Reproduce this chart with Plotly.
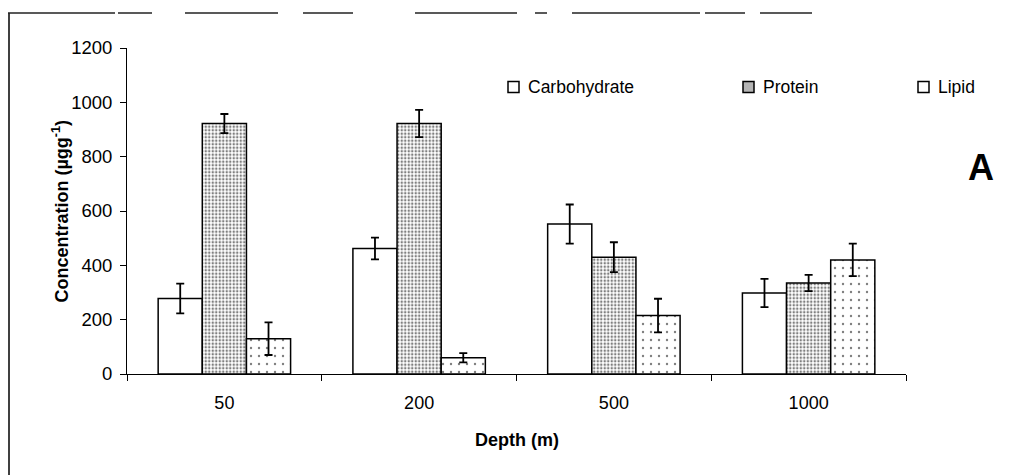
import plotly.graph_objects as go

# Sampling depths and measured biochemical concentrations (µg g-1)
depths = ["50", "200", "500", "1000"]
carbohydrate = [278, 462, 552, 298]
carbohydrate_err = [55, 40, 72, 52]
protein = [922, 922, 430, 335]
protein_err = [35, 50, 55, 30]
lipid = [130, 60, 215, 420]
lipid_err = [60, 17, 62, 60]

y_ticks = [0, 200, 400, 600, 800, 1000, 1200]

FONT = "Liberation Sans, Arial, sans-serif"

# Plot-area geometry in pixels, used to place decorations in paper coords
L, R, T, B = 127, 906, 48, 374
PW, PH = R - L, B - T


def px(x):
    return (x - L) / PW


def py(y):
    return (B - y) / PH


series = [
    ("Carbohydrate", carbohydrate, carbohydrate_err, dict(shape="", bgcolor="white"), "white"),
    ("Protein", protein, protein_err,
     dict(shape=".", size=3.5, solidity=0.4, fgcolor="black", bgcolor="white", fillmode="overlay"),
     "#b4b4b4"),
    ("Lipid", lipid, lipid_err,
     dict(shape=".", size=8, solidity=0.07, fgcolor="black", bgcolor="white", fillmode="overlay"),
     "white"),
]

fig = go.Figure()
for name, vals, errs, pattern, _ in series:
    fig.add_trace(go.Bar(
        name=name,
        x=depths,
        y=vals,
        marker=dict(color="white", line=dict(color="black", width=1.5), pattern=pattern),
        error_y=dict(type="data", array=errs, visible=True, color="black", thickness=1.8, width=4),
        showlegend=False,
    ))

fig.update_layout(
    barmode="group",
    bargap=0.32,
    bargroupgap=0,
    width=1024,
    height=475,
    margin=dict(l=L, r=1024 - R, t=T, b=475 - B),
    paper_bgcolor="white",
    plot_bgcolor="white",
    font=dict(family=FONT, size=18, color="black"),
    xaxis=dict(
        showline=True, linecolor="black", linewidth=1,
        ticks="outside", ticklen=6, tickcolor="black",
        tickson="boundaries",
        tickfont=dict(family=FONT, size=18),
        ticklabelstandoff=12,
    ),
    yaxis=dict(
        range=[0, 1200],
        tickvals=y_ticks,
        showline=True, linecolor="black", linewidth=1,
        ticks="outside", ticklen=6, tickcolor="black",
        showgrid=False, zeroline=False,
        tickfont=dict(family=FONT, size=18.5),
        ticklabelstandoff=4,
    ),
)

# Legend row: small boxes and labels
legend_box_x = [508, 743, 918]
legend_y = 87
for (name, _, _, _, box_fill), bx in zip(series, legend_box_x):
    fig.add_shape(type="rect", xref="paper", yref="paper",
                  x0=px(bx), x1=px(bx + 11), y0=py(legend_y + 5.5), y1=py(legend_y - 5.5),
                  line=dict(color="black", width=1.5), fillcolor=box_fill)
    fig.add_annotation(text=name, xref="paper", yref="paper",
                       x=px(bx + 18), y=py(legend_y), xanchor="left", yanchor="middle",
                       showarrow=False, font=dict(family=FONT, size=17.5, color="black"))

# Axis titles
fig.add_annotation(
    text="<b>Concentration (µgg<sup>-1</sup>)</b>",
    xref="paper", yref="paper",
    x=px(47), y=0.5,
    textangle=-90, showarrow=False,
    font=dict(family=FONT, size=18, color="black"),
)
fig.add_annotation(
    text="<b>Depth (m)</b>",
    xref="paper", yref="paper",
    x=px(517), y=py(440), xanchor="center", yanchor="middle",
    showarrow=False,
    font=dict(family=FONT, size=18, color="black"),
)

# Panel letter
fig.add_annotation(
    text="<b>A</b>",
    xref="paper", yref="paper",
    x=px(981), y=py(167), xanchor="center", yanchor="middle",
    showarrow=False,
    font=dict(family=FONT, size=36, color="black"),
)

# Panel frame: left edge and broken top edge
fig.add_shape(type="line", xref="paper", yref="paper",
              x0=px(9), x1=px(9), y0=py(480), y1=py(13),
              line=dict(color="black", width=1.5))
top_segments = [(8, 115), (118, 152), (185, 278), (303, 353), (415, 517),
                (535, 547), (572, 700), (705, 745), (760, 812)]
for a, b in top_segments:
    fig.add_shape(type="line", xref="paper", yref="paper",
                  x0=px(a), x1=px(b), y0=py(13), y1=py(13),
                  line=dict(color="#222222", width=1.5))

fig.write_html("out.html")
